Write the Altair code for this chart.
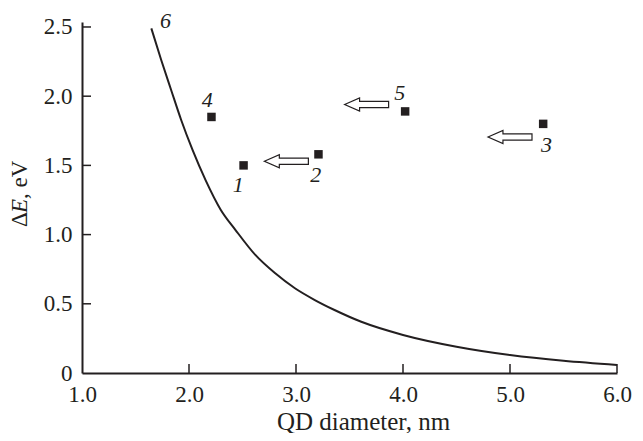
import altair as alt
import pandas as pd

# curve 6
curve_d = [1.648, 1.741, 1.833, 1.926, 2.034, 2.157, 2.296, 2.435, 2.62, 2.806, 2.99, 3.176, 3.36, 3.61, 4.0, 4.5, 5.0, 5.5, 6.0]
curve_e = [2.49, 2.26, 2.045, 1.83, 1.61, 1.39, 1.18, 1.033, 0.853, 0.72, 0.612, 0.527, 0.455, 0.37, 0.275, 0.19, 0.13, 0.088, 0.058]

# experimental points
pt_d = [2.51, 3.21, 5.31, 2.21, 4.02]
pt_e = [1.50, 1.58, 1.80, 1.85, 1.89]

# point / curve labels
lab_text = ["1", "2", "3", "4", "5", "6"]
lab_d = [2.46, 3.185, 5.34, 2.17, 3.97, 1.78]
lab_e = [1.36, 1.43, 1.65, 1.97, 2.02, 2.54]

# hollow arrows (centres)
arr_d = [2.91, 3.66, 5.0]
arr_e = [1.53, 1.94, 1.705]

x_ticks = [2.0, 3.0, 4.0, 5.0, 6.0]
y_ticks = [0.5, 1.0, 1.5, 2.0, 2.5]
x_labels = [1.0, 2.0, 3.0, 4.0, 5.0, 6.0]
y_labels = [0.0, 0.5, 1.0, 1.5, 2.0, 2.5]

INK = "#231f20"
SERIF = "Liberation Serif"
W, H = 535, 351

xs = alt.Scale(domain=[1, 6], nice=False, zero=False)
ys = alt.Scale(domain=[0, 2.536], nice=False)

curve = pd.DataFrame({"d": curve_d, "e": curve_e})
pts = pd.DataFrame({"d": pt_d, "e": pt_e})
labs = pd.DataFrame({"d": lab_d, "e": lab_e, "t": lab_text})
arrs = pd.DataFrame({"d": arr_d, "e": arr_e})
xt = pd.DataFrame({"v": x_ticks})
yt = pd.DataFrame({"v": y_ticks})

common = dict(ticks=False, grid=False, domainColor=INK, domainWidth=2, labelFlush=False,
              labelFont=SERIF, labelFontSize=23, labelColor=INK, labelPadding=10)

x_axis = alt.Axis(values=x_labels, format=".1f",
                  title="QD diameter, nm", titleFont=SERIF,
                  titleFontSize=25, titleFontWeight="normal", titleColor=INK,
                  titlePadding=3, titleX=281, **common)
y_axis = alt.Axis(values=y_labels, title=None,
                  labelExpr="datum.value == 0 ? '0' : format(datum.value, '.1f')",
                  **common)

line = alt.Chart(curve).mark_line(color=INK, strokeWidth=2, interpolate="monotone").encode(
    x=alt.X("d:Q", scale=xs, axis=x_axis),
    y=alt.Y("e:Q", scale=ys, axis=y_axis),
)

squares = alt.Chart(pts).mark_square(size=72, color=INK, opacity=1).encode(
    x=alt.X("d:Q", scale=xs), y=alt.Y("e:Q", scale=ys)
)

labels = alt.Chart(labs).mark_text(font=SERIF, fontSize=22, fontStyle="italic",
                                   color=INK, baseline="middle", align="center").encode(
    x=alt.X("d:Q", scale=xs), y=alt.Y("e:Q", scale=ys), text="t:N"
)

arrow_path = "M -1 0 L -0.32 -0.3 L -0.32 -0.14 L 1 -0.14 L 1 0.14 L -0.32 0.14 L -0.32 0.3 Z"
arrows = alt.Chart(arrs).mark_point(shape=arrow_path, size=1936, filled=True, fill="white",
                                    stroke=INK, strokeWidth=1.2, opacity=1).encode(
    x=alt.X("d:Q", scale=xs), y=alt.Y("e:Q", scale=ys)
)

xtick = alt.Chart(xt).mark_rule(color=INK, strokeWidth=1.5).encode(
    x=alt.X("v:Q", scale=xs), y=alt.value(H), y2=alt.value(H - 9)
)
ytick = alt.Chart(yt).mark_rule(color=INK, strokeWidth=1.5).encode(
    y=alt.Y("v:Q", scale=ys), x=alt.value(0), x2=alt.value(9)
)

title_df = pd.DataFrame({"t": ["Δ"]})
t1 = alt.Chart(title_df).mark_text(font=SERIF, fontSize=23, angle=270,
                                   align="left", baseline="middle", color=INK).encode(
    x=alt.value(-62), y=alt.value(205), text=alt.value("Δ"))
t2 = alt.Chart(title_df).mark_text(font=SERIF, fontSize=23, angle=270,
                                   fontStyle="italic", align="left", baseline="middle", color=INK).encode(
    x=alt.value(-62), y=alt.value(191), text=alt.value("E"))
t3 = alt.Chart(title_df).mark_text(font=SERIF, fontSize=23, angle=270,
                                   align="left", baseline="middle", color=INK).encode(
    x=alt.value(-62), y=alt.value(177), text=alt.value(", eV"))

chart = alt.layer(line, xtick, ytick, arrows, squares, labels, t1, t2, t3).properties(
    width=W, height=H,
    autosize=alt.AutoSizeParams(type="none"),
    padding={"left": 74, "top": 14, "right": 17, "bottom": 60},
).configure(
    font=SERIF, background="white"
).configure_view(stroke=None).configure_axis(
    labelFont=SERIF, titleFont=SERIF, labelFontSize=23, titleFontSize=25,
    labelColor=INK, titleColor=INK, titleFontWeight="normal", labelFlush=False,
)

chart.save("out.html", embed_options={"renderer": "svg", "actions": False})
